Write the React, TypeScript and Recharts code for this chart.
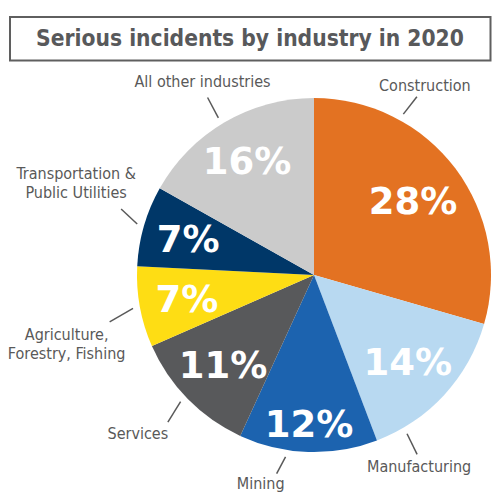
import { Cell, Pie, PieChart } from "recharts";

// Share of serious incidents per industry, clockwise from 12 o'clock
const industries = [
  "Construction",
  "Manufacturing",
  "Mining",
  "Services",
  "Agriculture, Forestry, Fishing",
  "Transportation & Public Utilities",
  "All other industries",
];
const shares = [28, 14, 12, 11, 7, 7, 16];
const calloutText = [
  ["Construction"],
  ["Manufacturing"],
  ["Mining"],
  ["Services"],
  ["Agriculture,", "Forestry, Fishing"],
  ["Transportation &", "Public Utilities"],
  ["All other industries"],
];
const sliceColors = [
  "#e37222",
  "#b8d9f1",
  "#1c63af",
  "#58595b",
  "#fedd14",
  "#003768",
  "#cbcbcb",
];

const data = industries.map((name, i) => ({ name, value: shares[i] }));

// layout tweaks for the labels (degrees clockwise from top, pixels)
const percentRadius = [0.7, 0.72, 0.84, 0.72, 0.73, 0.74, 0.75];
const callouts = [
  { shift: -24, dir: 38, len: 22, tx: 8, ty: -6 },
  { shift: 17, dir: 154, len: 23, tx: 2, ty: 18 },
  { shift: 7, dir: 208, len: 19, tx: -16, ty: 15 },
  { shift: 1, dir: 212, len: 24, tx: -30, ty: 17 },
  { shift: 0, dir: 240, len: 27, tx: -43, ty: 18.5 },
  { shift: 0, dir: 313, len: 22, tx: -45, ty: -29.5 },
  { shift: -1, dir: 332, len: 23, tx: -5, ty: -10 },
];

const FONT = "'DejaVu Sans', Verdana, sans-serif";
const TEXT_GRAY = "#595959";
const RAD = Math.PI / 180;

function polar(cx: number, cy: number, r: number, clockDeg: number) {
  return {
    x: cx + r * Math.sin(clockDeg * RAD),
    y: cy - r * Math.cos(clockDeg * RAD),
  };
}

function renderLabel(props: any) {
  const { cx, cy, midAngle, outerRadius, index } = props;
  const clock = 90 - midAngle;
  const pct = polar(cx, cy, outerRadius * percentRadius[index], clock);
  const c = callouts[index];
  const start = polar(cx, cy, outerRadius + 7, clock + c.shift);
  const end = {
    x: start.x + c.len * Math.sin(c.dir * RAD),
    y: start.y - c.len * Math.cos(c.dir * RAD),
  };
  return (
    <g key={`lbl-${index}`}>
      <text
        x={pct.x}
        y={pct.y}
        dy="0.36em"
        textAnchor="middle"
        fill="#ffffff"
        fontFamily={FONT}
        fontWeight="bold"
        fontSize={37}
      >
        {`${shares[index]}%`}
      </text>
      <line
        x1={start.x}
        y1={start.y}
        x2={end.x}
        y2={end.y}
        stroke={TEXT_GRAY}
        strokeWidth={1.5}
      />
      <text
        x={end.x + c.tx}
        y={end.y + c.ty}
        textAnchor="middle"
        fill={TEXT_GRAY}
        fontFamily={FONT}
        fontSize={16}
        style={{ fontStretch: "condensed" }}
      >
        {calloutText[index].map((line, j) => (
          <tspan key={j} x={end.x + c.tx} dy={j === 0 ? 0 : 19}>
            {line}
          </tspan>
        ))}
      </text>
    </g>
  );
}

export default function App() {
  return (
    <div
      style={{
        position: "absolute",
        left: 0,
        top: 0,
        width: 500,
        height: 500,
        background: "#ffffff",
      }}
    >
      <svg
        width={500}
        height={70}
        style={{ position: "absolute", left: 0, top: 0 }}
      >
        <rect
          x={10}
          y={17}
          width={480.5}
          height={43.5}
          fill="#ffffff"
          stroke="#5f5f5f"
          strokeWidth={2}
        />
        <text
          x={250}
          y={45.7}
          textAnchor="middle"
          fill="#58595b"
          fontFamily={FONT}
          fontWeight="bold"
          fontSize={22.6}
          style={{ fontStretch: "condensed" }}
        >
          Serious incidents by industry in 2020
        </text>
      </svg>
      <div style={{ position: "absolute", left: 0, top: 0 }}>
        <PieChart
          width={500}
          height={500}
          margin={{ top: 0, right: 0, bottom: 0, left: 0 }}
        >
          <Pie
            data={data}
            dataKey="value"
            nameKey="name"
            cx={314}
            cy={275}
            outerRadius={177}
            startAngle={90}
            endAngle={-270}
            stroke="none"
            label={renderLabel}
            labelLine={false}
            isAnimationActive={false}
          >
            {data.map((d, i) => (
              <Cell key={d.name} fill={sliceColors[i]} />
            ))}
          </Pie>
        </PieChart>
      </div>
    </div>
  );
}
